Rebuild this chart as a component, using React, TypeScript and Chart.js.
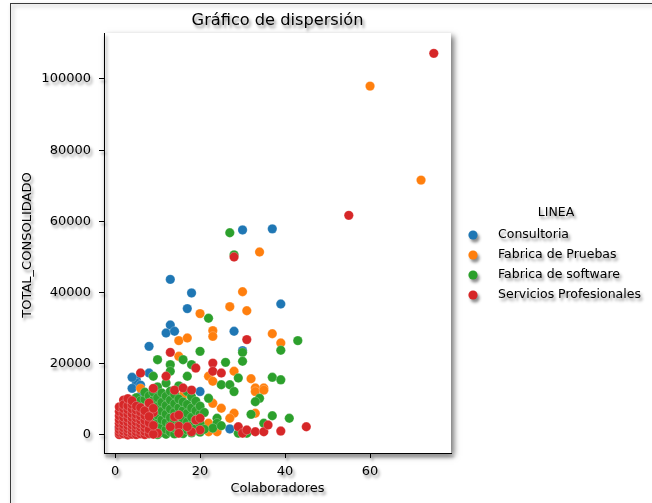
import { useEffect, useRef } from "react";
import { Chart, registerables } from "chart.js";

Chart.register(...registerables);

const TITLE = "Gráfico de dispersión";
const X_LABEL = "Colaboradores";
const Y_LABEL = "TOTAL_CONSOLIDADO";
const LEGEND_TITLE = "LINEA";
const SERIES_NAMES = ["Consultoria", "Fabrica de Pruebas", "Fabrica de software", "Servicios Profesionales"];
const SERIES_COLORS = ["#1f77b4", "#ff7f0e", "#2ca02c", "#d62728"];
const X_TICKS = [0, 20, 40, 60];
const Y_TICKS = [0, 20000, 40000, 60000, 80000, 100000];
const X_RANGE = [-2.6, 79.05];
const Y_RANGE = [-5060, 112920];

// [colaboradores, total consolidado]
const consultoria: [number, number][] = [
  [30, 57600], [37, 57900], [13, 43700], [18, 39900], [17, 35500], [39, 36800],
  [13, 30900], [12, 28650], [14, 29130], [8, 24900], [8, 17400], [5, 15500],
  [5, 14600], [28, 29130], [30, 23700], [4, 13100], [20, 12200], [27, 1700],
  [2, 6500], [3, 9000], [6, 4000], [1, 2000], [9, 7000], [11, 3000], [15, 9500],
  [10, 12500], [6, 11000], [3, 3000], [4, 16200], [6, 14000],
];

const fabricaPruebas: [number, number][] = [
  [60, 98000], [72, 71600], [34, 51400], [30, 40250], [20, 34100], [27, 36040],
  [31, 34900], [15, 26500], [17, 27250], [15, 22100], [22, 16500], [23, 29300],
  [23, 27700], [37, 28450], [39, 25850], [28, 17900], [32, 15800], [33, 13200],
  [35, 13200], [23, 15100], [33, 12200], [35, 12600], [23, 8900], [25, 7500],
  [28, 6100], [27, 4700], [33, 6100], [24, 900], [22, 900], [6, 13100], [13, 8900],
  [16, 11200], [22, 3300], [4, 5000], [9, 2500], [12, 5500], [18, 1500], [19, 6500],
  [10, 9500], [14, 500], [7, 1000],
];

const fabricaSoftware: [number, number][] = [
  [27, 56800], [28, 50600], [22, 32800], [20, 23500], [10, 21150], [16, 21150],
  [13, 19750], [18, 19750], [9, 16500], [13, 17900], [17, 16500], [43, 26500],
  [30, 23200], [30, 20700], [39, 23800], [26, 20400], [29, 16000], [37, 16200],
  [39, 15500], [25, 14100], [27, 14100], [28, 12200], [34, 10300], [33, 9350],
  [22, 10300], [32, 5800], [37, 5400], [41, 4700], [24, 4700], [24, 3300],
  [23, 1900], [35, 3300], [29, 500], [31, 500], [25, 2600],
  [5, 10500], [6, 9600], [7, 10000], [7, 12000],
  [8, 300], [8, 1800], [8, 3900], [8, 6200], [8, 8800], [8, 11000],
  [9, 900], [9, 2600], [9, 4800], [9, 7200], [9, 9800], [9, 12000],
  [10, 100], [10, 1500], [10, 3300], [10, 5600], [10, 8000], [10, 10500], [10, 13500],
  [11, 700], [11, 2300], [11, 4300], [11, 6700], [11, 9200], [11, 11800],
  [12, 200], [12, 1600], [12, 3600], [12, 5900], [12, 8300], [12, 10900], [12, 14600],
  [13, 900], [13, 2900], [13, 4900], [13, 7300], [13, 9800], [13, 12300],
  [14, 300], [14, 2000], [14, 4100], [14, 6400], [14, 8800], [14, 11400],
  [15, 1200], [15, 3000], [15, 5300], [15, 7700], [15, 10100], [15, 13800],
  [16, 400], [16, 2400], [16, 4500], [16, 6900], [16, 9300],
  [17, 1400], [17, 3700], [17, 6100], [17, 8600], [17, 12200],
  [18, 600], [18, 2800], [18, 5000], [18, 7600], [18, 10700],
  [19, 1900], [19, 4200], [19, 6800], [19, 9500],
  [20, 800], [20, 3200], [20, 5900], [20, 8100], [21, 1600], [21, 6300],
];

const serviciosProfesionales: [number, number][] = [
  [75, 107200], [55, 61700], [28, 50000], [13, 23200], [19, 18800], [6, 17400],
  [12, 16500], [31, 26800], [23, 20200], [23, 17900], [25, 17400], [9, 13100],
  [14, 12600], [16, 13200], [18, 12600], [2, 9800], [45, 2300], [29, 2300],
  [30, 500], [31, 1400], [33, 900], [35, 900], [36, 2800], [39, 1100],
  [14, 5100], [15, 2500], [19, 4200], [20, 1400], [18, 900], [13, 2300],
  [10, 500], [15, 500], [17, 2300], [20, 4700], [15, 5600], [9, 6300],
  [1, 100], [1, 700], [1, 1500], [1, 2400], [1, 3300], [1, 4300], [1, 5400], [1, 6600], [1, 7900],
  [2, 300], [2, 1100], [2, 2000], [2, 2900], [2, 3900], [2, 5000], [2, 6200], [2, 7400], [2, 8500],
  [3, 0], [3, 800], [3, 1700], [3, 2600], [3, 3600], [3, 4700], [3, 5900], [3, 7100], [3, 8200], [3, 10200],
  [4, 200], [4, 1000], [4, 1900], [4, 2800], [4, 3800], [4, 4900], [4, 6000], [4, 7300], [4, 8600], [4, 9600],
  [5, 100], [5, 900], [5, 1800], [5, 2700], [5, 3700], [5, 4800], [5, 5800], [5, 7000], [5, 8100],
  [6, 300], [6, 1200], [6, 2200], [6, 3100], [6, 4200], [6, 5300], [6, 6500], [6, 7700],
  [7, 100], [7, 1000], [7, 2000], [7, 3000], [7, 4100], [7, 5500], [7, 6800],
  [8, 400], [8, 1600], [8, 3500], [8, 5200], [8, 9000], [9, 200], [9, 2700], [9, 7500],
];

const SERIES = [consultoria, fabricaPruebas, fabricaSoftware, serviciosProfesionales];

const FONT = "'DejaVu Sans', sans-serif";
const SHADOW = "rgba(0,0,0,0.45)";

function setShadow(ctx: CanvasRenderingContext2D, color = SHADOW, blur = 3, dx = 2, dy = 3) {
  ctx.shadowColor = color;
  ctx.shadowBlur = blur;
  ctx.shadowOffsetX = dx;
  ctx.shadowOffsetY = dy;
}

// Figure frame, axes patch shadow and the free-standing texts (title, axis names, legend)
const decorPlugin = {
  id: "decor",
  beforeDraw(chart: any) {
    const ctx: CanvasRenderingContext2D = chart.ctx;
    const { left, right, top, bottom } = chart.chartArea;
    const W = chart.width;
    const H = chart.height;
    ctx.save();
    ctx.fillStyle = "#ffffff";
    ctx.fillRect(0, 0, W, H);

    // outer frame
    setShadow(ctx, "rgba(0,0,0,0.4)", 4, 2, 2);
    ctx.strokeStyle = "#3a3a3a";
    ctx.lineWidth = 1;
    ctx.strokeRect(10.5, 3.5, W + 20, H + 20);

    // axes background with drop shadow
    setShadow(ctx, "rgba(0,0,0,0.55)", 6, 3, 3);
    ctx.fillStyle = "#ffffff";
    ctx.fillRect(left, top, right - left, bottom - top);

    // texts
    setShadow(ctx);
    ctx.fillStyle = "#000000";
    const cx = (left + right) / 2;
    ctx.textAlign = "center";
    ctx.textBaseline = "middle";
    ctx.font = `16.2px ${FONT}`;
    ctx.fillText(TITLE, cx, 20.5);
    ctx.font = `13px ${FONT}`;
    ctx.fillText(X_LABEL, cx, 488.5);
    ctx.save();
    ctx.translate(28, 245);
    ctx.rotate(-Math.PI / 2);
    ctx.fillText(Y_LABEL, 0, 0);
    ctx.restore();

    // legend
    ctx.font = `12.5px ${FONT}`;
    ctx.fillText(LEGEND_TITLE, 556, 213);
    ctx.textAlign = "left";
    SERIES_NAMES.forEach((name, i) => {
      const y = 235 + i * 20;
      ctx.fillStyle = SERIES_COLORS[i];
      ctx.beginPath();
      ctx.arc(473, y, 4.6, 0, Math.PI * 2);
      ctx.fill();
      ctx.fillStyle = "#000000";
      ctx.fillText(name, 498, y);
    });
    ctx.restore();

    // axis spines, ticks and tick labels get the same soft shadow
    ctx.save();
    setShadow(ctx);
  },
  beforeDatasetsDraw(chart: any) {
    chart.ctx.restore();
  },
};

export default function App() {
  const ref = useRef<HTMLCanvasElement>(null);

  useEffect(() => {
    if (!ref.current) return;
    const chart = new Chart(ref.current, {
      type: "scatter",
      data: {
        datasets: SERIES.map((pts, i) => ({
          label: SERIES_NAMES[i],
          data: pts.map(([x, y]) => ({ x, y })),
          backgroundColor: SERIES_COLORS[i],
          borderColor: "rgba(255,255,255,0.4)",
          borderWidth: 0.6,
          pointRadius: 4.7,
          pointHoverRadius: 4.7,
          order: SERIES.length - 1 - i,
        })),
      },
      options: {
        animation: false,
        responsive: false,
        devicePixelRatio: 1,
        layout: { padding: { left: 0, right: 201, top: 33, bottom: 0 } },
        plugins: {
          legend: { display: false },
          title: { display: false },
          tooltip: { enabled: false },
        },
        scales: {
          x: {
            type: "linear",
            min: X_RANGE[0],
            max: X_RANGE[1],
            afterBuildTicks: (s: any) => {
              s.ticks = X_TICKS.map((v) => ({ value: v }));
            },
            afterFit: (s: any) => {
              s.height = 50;
            },
            grid: { display: true, drawOnChartArea: false, drawTicks: true, tickLength: 5, tickColor: "#000", tickWidth: 1 },
            border: { display: true, color: "#000", width: 1 },
            ticks: { color: "#000", font: { family: FONT, size: 13 }, padding: 6, callback: (v: any) => String(v) },
          },
          y: {
            type: "linear",
            min: Y_RANGE[0],
            max: Y_RANGE[1],
            afterBuildTicks: (s: any) => {
              s.ticks = Y_TICKS.map((v) => ({ value: v }));
            },
            afterFit: (s: any) => {
              s.width = 104;
            },
            grid: { display: true, drawOnChartArea: false, drawTicks: true, tickLength: 5, tickColor: "#000", tickWidth: 1 },
            border: { display: true, color: "#000", width: 1 },
            ticks: { color: "#000", font: { family: FONT, size: 13 }, padding: 8, callback: (v: any) => String(v) },
          },
        },
      },
      plugins: [decorPlugin],
    } as any);
    return () => chart.destroy();
  }, []);

  return (
    <div style={{ position: "fixed", left: 0, top: 0, width: 652, height: 503, background: "#fff" }}>
      <canvas ref={ref} width={652} height={503} style={{ display: "block" }} />
    </div>
  );
}
